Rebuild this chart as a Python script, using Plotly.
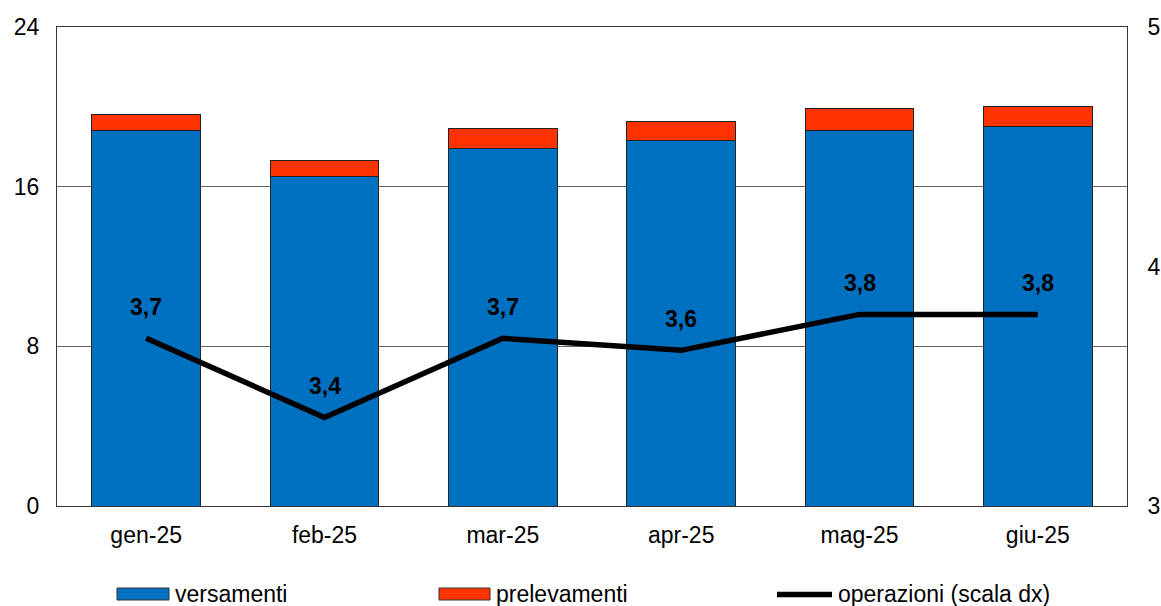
import plotly.graph_objects as go

categories = ["gen-25", "feb-25", "mar-25", "apr-25", "mag-25", "giu-25"]
versamenti = [18.8, 16.5, 17.9, 18.3, 18.8, 19.0]
prelevamenti = [0.8, 0.8, 1.0, 0.95, 1.1, 1.0]
operazioni = [3.70, 3.37, 3.70, 3.65, 3.80, 3.80]

FONT = "Liberation Sans, Arial, sans-serif"
BLUE = "#0070C0"
RED = "#FF3300"

W, H = 1161, 606
# plot area in page pixels: x 57..1127, y 27..506
ML, MR, MT, MB = 57, 1161 - 1127, 27, 606 - 506
PW, PH = W - ML - MR, H - MT - MB


def px(x):  # page px -> paper
    return (x - ML) / PW


def py(y):  # page px -> paper
    return (H - MB - y) / PH


fig = go.Figure()
fig.add_trace(go.Bar(x=categories, y=versamenti, name="versamenti", showlegend=False,
                     marker=dict(color=BLUE, line=dict(color="#222", width=1))))
fig.add_trace(go.Bar(x=categories, y=prelevamenti, name="prelevamenti", showlegend=False,
                     marker=dict(color=RED, line=dict(color="#222", width=1))))
fig.add_trace(go.Scatter(x=categories, y=operazioni, name="operazioni (scala dx)",
                         mode="lines", yaxis="y2", showlegend=False,
                         line=dict(color="black", width=5.5)))

for c, v in zip(categories, operazioni):
    fig.add_annotation(x=c, y=v, yref="y2", text=f"<b>{v:.1f}</b>".replace(".", ","),
                       showarrow=False, yshift=31,
                       font=dict(family=FONT, size=23, color="black"))

# manual legend
legend_items = [("versamenti", "rect", BLUE, 117, 169),
                ("prelevamenti", "rect", RED, 439, 490),
                ("operazioni (scala dx)", "line", "black", 777, 832)]
for label, kind, col, x0, x1 in legend_items:
    if kind == "rect":
        fig.add_shape(type="rect", xref="paper", yref="paper",
                      x0=px(x0), x1=px(x1), y0=py(600), y1=py(588),
                      fillcolor=col, line=dict(color="#333", width=1))
    else:
        fig.add_shape(type="line", xref="paper", yref="paper",
                      x0=px(x0), x1=px(x1), y0=py(594.5), y1=py(594.5),
                      line=dict(color=col, width=5.5))
    fig.add_annotation(xref="paper", yref="paper", x=px(x1 + 4), y=py(594),
                       xanchor="left", yanchor="middle", text=label, showarrow=False,
                       font=dict(family=FONT, size=23, color="black"))

fig.update_layout(
    barmode="stack",
    bargap=0.39,
    width=W, height=H,
    margin=dict(l=ML, r=MR, t=MT, b=MB, autoexpand=False),
    plot_bgcolor="white", paper_bgcolor="white",
    font=dict(family=FONT, size=23, color="black"),
    showlegend=False,
    xaxis=dict(showline=True, linecolor="#333", linewidth=1, mirror=True,
               ticks="", tickfont=dict(size=23), ticklabelstandoff=8,
               automargin=False),
    yaxis=dict(range=[0, 24], tickvals=[0, 8, 16, 24], showgrid=True,
               gridcolor="#666", gridwidth=1, showline=True, linecolor="#333",
               linewidth=1, zeroline=False, ticks="", tickfont=dict(size=23),
               ticklabelstandoff=12, automargin=False),
    yaxis2=dict(range=[3, 5], tickvals=[3, 4, 5], overlaying="y", side="right",
                showgrid=False, showline=True, linecolor="#333", linewidth=1,
                zeroline=False, ticks="", tickfont=dict(size=23),
                ticklabelstandoff=15, automargin=False),
)

fig.write_html(
    "out.html",
    config={"displayModeBar": False},
    post_script="document.body.style.margin='0';document.body.style.overflow='hidden';",
)
